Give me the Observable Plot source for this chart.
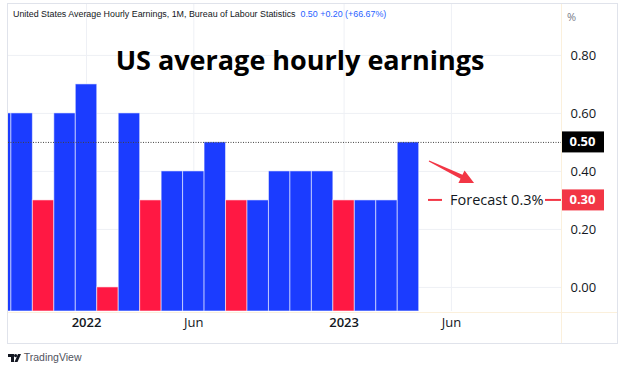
<!DOCTYPE html>
<html><head><meta charset="utf-8">
<script src="https://cdn.jsdelivr.net/npm/d3@7"></script>
<script src="https://cdn.jsdelivr.net/npm/@observablehq/plot@0.6"></script>
<style>
body{margin:0;background:#fff;}
#wrap{position:relative;width:624px;height:370px;overflow:hidden;font-family:"Open Sans","Noto Sans",sans-serif;color:#131722;}
#wrap svg{position:absolute;left:0;top:0;}
.abs{position:absolute;white-space:nowrap;}
</style></head><body><div id="wrap"></div>
<script>
// ---- data ----
const months = ["2021-09","2021-10","2021-11","2021-12","2022-01","2022-02","2022-03","2022-04","2022-05","2022-06",
                "2022-07","2022-08","2022-09","2022-10","2022-11","2022-12","2023-01","2023-02","2023-03","2023-04"];
const values = [0.6,0.6,0.3,0.6,0.7,0.0,0.6,0.3,0.4,0.4,0.5,0.3,0.3,0.4,0.4,0.4,0.3,0.3,0.3,0.5];
const tickMonths = ["2022-01","2022-06","2023-01","2023-06"];
const tickLabels = ["2022","Jun","2023","Jun"];
const yTicks = [0,0.2,0.4,0.6,0.8];
const currentValue = 0.50;
const forecastValue = 0.30;
const forecastText = "Forecast 0.3%";
const headerTitle = "United States Average Hourly Earnings, 1M, Bureau of Labour Statistics";
const headerValues = "0.50 +0.20 (+66.67%)";
const chartTitle = "US average hourly earnings";

const BLUE = "#1b3cff", RED = "#ff1843", LABELRED = "#f23645";
const monthIndex = m => { const [y, mo] = m.split("-").map(Number); return (y - 2022) * 12 + (mo - 1); };
const data = months.map((m, i) => ({idx: monthIndex(m), v: values[i], up: i === 0 || values[i] >= values[i - 1]}));
const ticks = tickMonths.map((m, i) => ({idx: monthIndex(m), label: tickLabels[i], year: /^\d+$/.test(tickLabels[i])}));
const yMin = -0.083, yMax = 0.979;
const font = '"Open Sans","Noto Sans",sans-serif';

const chart = Plot.plot({
  width: 624, height: 370,
  marginLeft: 8, marginRight: 63, marginTop: 3, marginBottom: 59,
  x: {type: "linear", domain: [-3.635, 22.13], axis: null, label: null},
  y: {domain: [yMin, yMax], axis: null, label: null},
  style: {background: "transparent", fontFamily: font, color: "#131722"},
  marks: [
    Plot.gridY(yTicks, {stroke: "#eef0f5", strokeOpacity: 1}),
    Plot.gridX(ticks, {x: "idx", stroke: "#eef0f5", strokeOpacity: 1}),
    Plot.rect(data, {x1: d => d.idx - 0.5, x2: d => d.idx + 0.5, y1: yMin, y2: "v",
      fill: d => d.up ? BLUE : RED, stroke: "#ffffff", strokeOpacity: 0.55, strokeWidth: 1, clip: true}),
    Plot.ruleY([currentValue], {stroke: "#444", strokeDasharray: "1,1.5", strokeWidth: 1}),
    Plot.axisY(yTicks, {anchor: "right", label: null, tickSize: 0, tickPadding: 9, tickFormat: d3.format(".2f"), fontSize: 13, fill: "#131722"}),
    Plot.text(ticks.filter(d => d.year), {x: "idx", text: "label", frameAnchor: "bottom", dy: 15, fontSize: 13, fontWeight: 600, fill: "#131722"}),
    Plot.text(ticks.filter(d => !d.year), {x: "idx", text: "label", frameAnchor: "bottom", dy: 15, fontSize: 13, fill: "#131722"}),
    Plot.text([forecastValue], {y: d => d, text: () => forecastText, frameAnchor: "right", dx: -18, textAnchor: "end", fontSize: 14.5, fill: "#131722"})
  ]
});

const wrap = document.getElementById("wrap");
wrap.appendChild(chart);

// value labels on price axis + forecast connector + arrow
const ys = chart.scale("y"), xs = chart.scale("x");
const svg = d3.select(chart);
const axisX = 624 - 63;
[[currentValue, "#000000"], [forecastValue, LABELRED]].forEach(([v, c]) => {
  const y = ys.apply(v);
  svg.append("rect").attr("x", axisX).attr("y", y - 10.5).attr("width", 43).attr("height", 21).attr("fill", c);
  svg.append("text").attr("x", axisX + 21.5).attr("y", y).attr("dy", "0.35em").attr("text-anchor", "middle")
    .attr("fill", "#fff").attr("font-size", 13).attr("font-weight", 700).attr("font-family", font).text(d3.format(".2f")(v));
});
{
  const y = ys.apply(forecastValue);
  svg.append("line").attr("x1", axisX - 16).attr("x2", axisX).attr("y1", y).attr("y2", y).attr("stroke", LABELRED).attr("stroke-width", 2);
  svg.append("line").attr("x1", axisX - 133).attr("x2", axisX - 119).attr("y1", y).attr("y2", y).attr("stroke", LABELRED).attr("stroke-width", 2);
  // arrow (annotation anchors in data units)
  const tail = [xs.apply(15.98), ys.apply(0.4345)], tip = [xs.apply(18.08), ys.apply(0.3586)];
  const dx = tip[0] - tail[0], dy = tip[1] - tail[1], L = Math.hypot(dx, dy);
  const u = [dx / L, dy / L], n = [-u[1], u[0]];
  const B = [tip[0] - u[0] * 14, tip[1] - u[1] * 14];
  const p = (P, k) => [P[0] + n[0] * k, P[1] + n[1] * k];
  const pts = [p(tail, 0.6), p(B, 2.2), p(B, 7), tip, p(B, -7), p(B, -2.2), p(tail, -0.6)];
  svg.append("path").attr("d", "M" + pts.map(q => q.join(",")).join("L") + "Z").attr("fill", LABELRED);
}

// frame / separators / header / title / logo
const add = (html, style) => { const d = document.createElement("div"); d.className = "abs"; d.innerHTML = html; d.setAttribute("style", style); wrap.appendChild(d); return d; };
add("", "left:7px;top:3px;width:611px;height:341px;box-sizing:border-box;border:1px solid #e0e3eb;");
add("", "left:561px;top:4px;width:1px;height:339px;background:#fbf0dc;");
add("", "left:8px;top:312px;width:609px;height:1px;background:#fbf0dc;");
add(headerTitle + "&nbsp; <span style='color:#2962ff'>" + headerValues + "</span>",
    "left:13px;top:7px;font-family:'Liberation Sans',Arial,sans-serif;font-size:8.9px;line-height:14px;color:#131722;");
add(chartTitle, "left:0;width:600px;text-align:center;top:40px;font-size:27px;font-weight:700;line-height:40px;color:#000;");
add("%", "left:567px;top:9px;font-size:11px;line-height:16px;color:#787b86;");
add("<svg width='13' height='8' viewBox='0 0 13 8' style='position:static;vertical-align:-1px'><path d='M0 0H6V8H3V3H0Z' fill='#131722'/><circle cx='7.6' cy='1.6' r='1.6' fill='#131722'/><path d='M10 0H13L9.5 8H6.5Z' fill='#131722'/></svg> TradingView",
    "left:8px;top:350px;font-family:'Liberation Sans',Arial,sans-serif;font-size:10.5px;line-height:14px;color:#50535e;");
</script></body></html>
